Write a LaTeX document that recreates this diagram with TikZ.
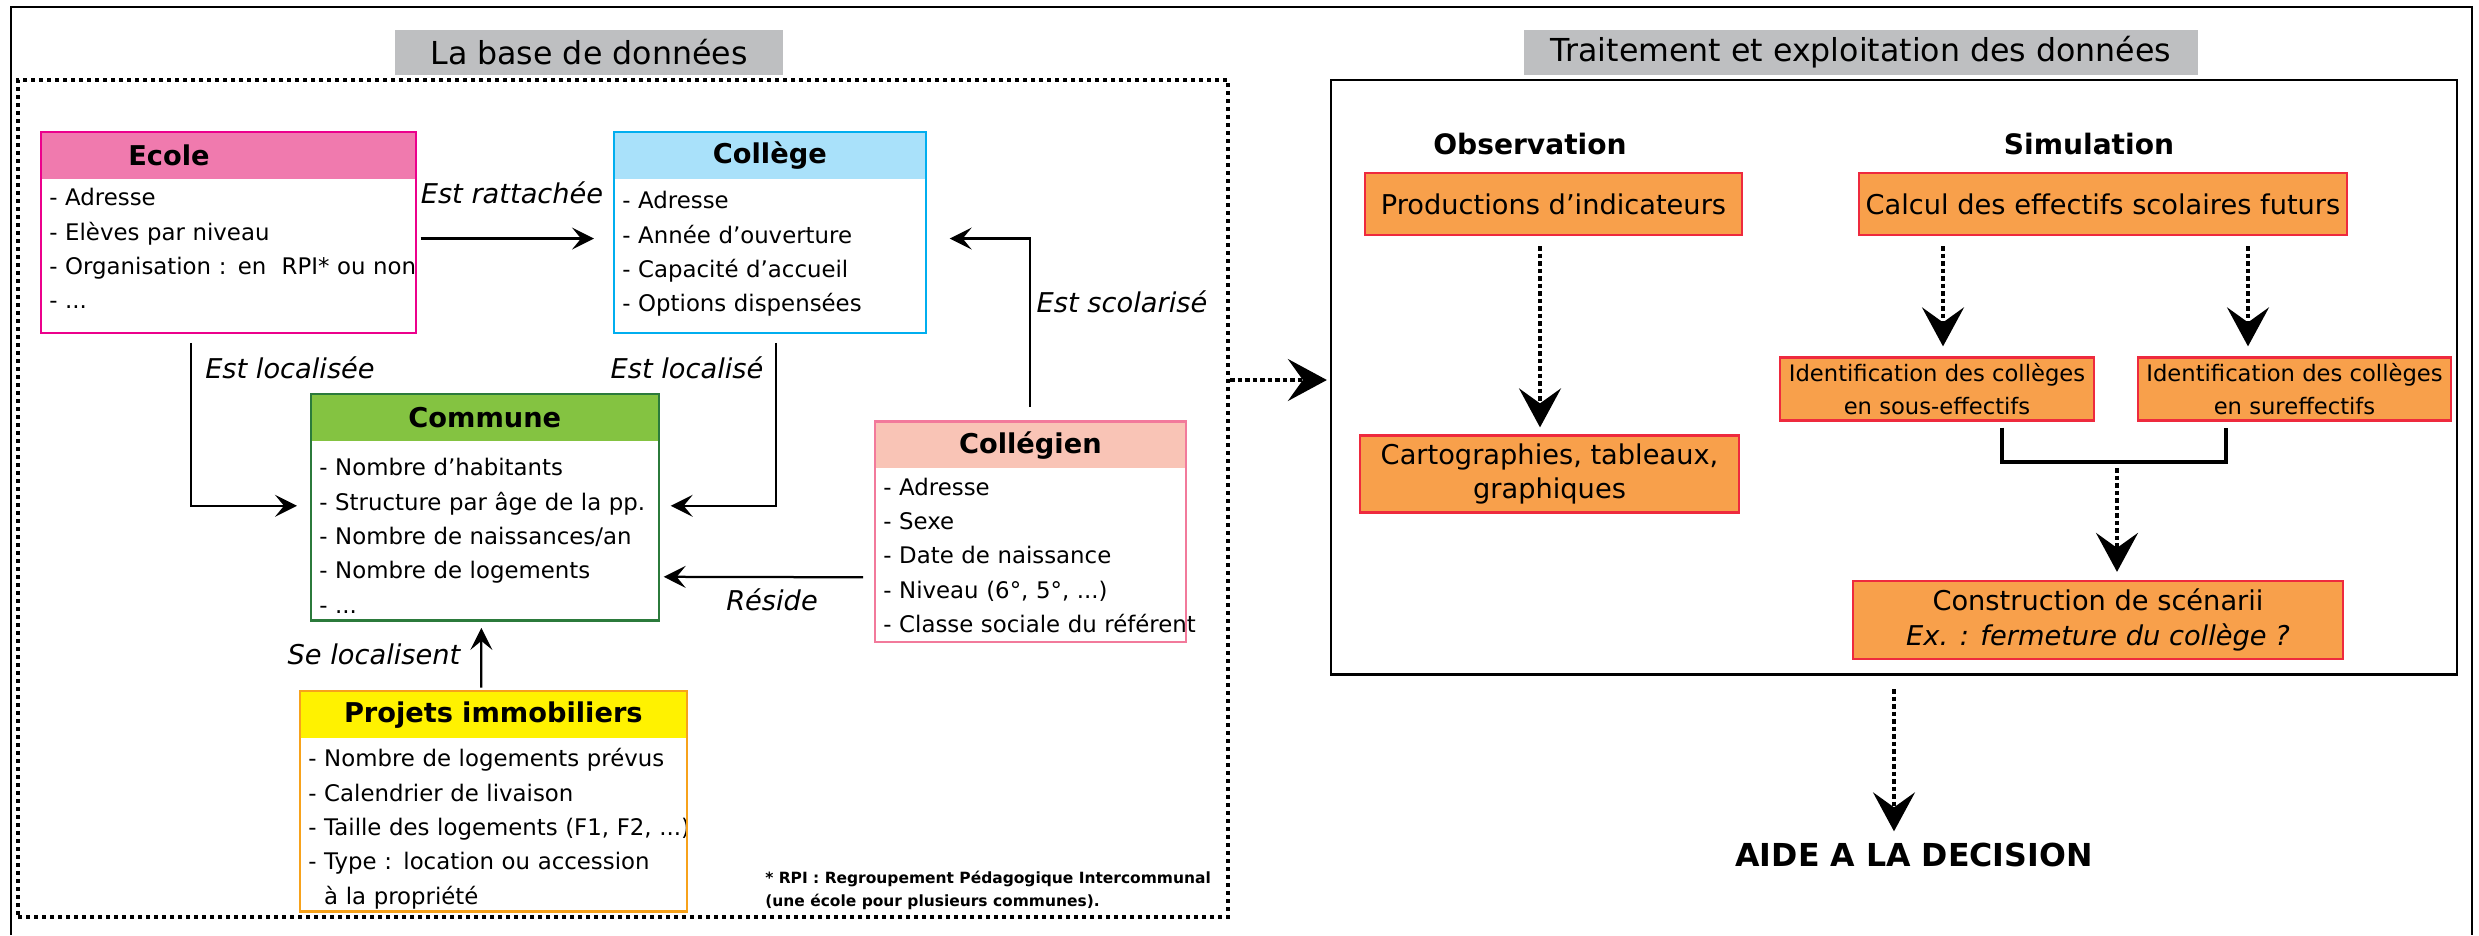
\documentclass[tikz,border=0pt]{standalone}
\usepackage{fontspec}
\setmainfont{DejaVu Sans}
\usetikzlibrary{arrows.meta}

\definecolor{ecolebord}{HTML}{EC008C}
\definecolor{ecolefond}{HTML}{F07AAE}
\definecolor{collegebord}{HTML}{00AEEF}
\definecolor{collegefond}{HTML}{A9E1FA}
\definecolor{communebord}{HTML}{2B7A3B}
\definecolor{communefond}{HTML}{84C341}
\definecolor{elevebord}{HTML}{F27A9B}
\definecolor{elevefond}{HTML}{F9C4B6}
\definecolor{projetbord}{HTML}{F7A21B}
\definecolor{projetfond}{HTML}{FFF200}
\definecolor{orangefond}{HTML}{F8A04B}
\definecolor{rougebord}{HTML}{EE2A3E}
\definecolor{grisfond}{HTML}{BEBFC1}

\newcommand{\taille}[2]{\fontsize{#1}{#2}\selectfont}

\tikzset{
  titre/.style={fill=grisfond, minimum height=0.90cm, font=\taille{18}{22}},
  tete/.style={fill=#1, anchor=north west, inner xsep=0pt, minimum height=0.93cm, align=center, font=\bfseries\taille{15.5}{18}},
  corps/.style={anchor=north west, align=left, inner xsep=0.16cm, inner ysep=0pt, font=\taille{13}{19.6}},
  cadre/.style={draw=#1, line width=0.045cm},
  relation/.style={font=\itshape\taille{15.5}{18}},
  rubrique/.style={font=\bfseries\taille{16}{19}},
  boite/.style={fill=orangefond, draw=rougebord, line width=0.045cm, align=center, inner xsep=0.1cm, font=\taille{15.5}{19.5}},
  fleche/.style={line width=0.045cm, -{Stealth[length=0.44cm, width=0.44cm, inset=0.18cm]}},
  pointille/.style={line width=0.07cm, dash pattern=on 0.09cm off 0.06cm, -{Stealth[length=0.78cm, width=0.84cm, inset=0.3cm]}},
  accolade/.style={line width=0.07cm}
}

\begin{document}
\begin{tikzpicture}
  \useasboundingbox (0,0) rectangle (49.58,-18.70);
  \draw[line width=0.05cm] (0.22,-18.70) |- (49.44,-0.14) -- (49.44,-18.70);
  \node[titre, minimum width=7.76cm] (tbase) at (11.78,-1.05) {La base de données};
  \node[titre, minimum width=13.48cm] (ttrait) at (37.22,-1.05) {Traitement et exploitation des données};
  \node[draw, line width=0.08cm, dash pattern=on 0.07cm off 0.09cm, minimum width=24.20cm, minimum height=16.74cm] (base) at (12.46,-9.97) {};
  \node[draw, line width=0.045cm, minimum width=22.52cm, minimum height=11.89cm] (trait) at (37.88,-7.545) {};
  % Les tables
  \node[tete=ecolefond, text width=7.48cm, align=left] (ecole) at (0.82,-2.64) {\hspace*{1.74cm}Ecole};
  \node[corps, text width=7.16cm, text height=0.52cm, text depth=2.54cm] (ecoleb) at (ecole.south west) {- Adresse\\- Elèves par niveau\\\mbox{- Organisation : en\ \ RPI* ou non}\\- ...};
  \node[tete=collegefond, text width=6.22cm] (college) at (12.28,-2.64) {Collège};
  \node[corps, text width=5.90cm, text height=0.58cm, text depth=2.48cm] (collegeb) at (college.south west) {- Adresse\\- Année d’ouverture\\- Capacité d’accueil\\- Options dispensées};
  \node[tete=communefond, text width=6.94cm] (commune) at (6.22,-7.88) {Commune};
  \node[corps, text width=6.62cm, text height=0.68cm, text depth=2.89cm] (communeb) at (commune.south west) {- Nombre d’habitants\\- Structure par âge de la pp.\\- Nombre de naissances/an\\- Nombre de logements\\- ...};
  \node[tete=elevefond, text width=6.20cm] (collegien) at (17.50,-8.43) {Collégien};
  \node[corps, text width=5.88cm, text height=0.52cm, text depth=2.93cm] (collegienb) at (collegien.south west) {- Adresse\\- Sexe\\- Date de naissance\\- Niveau (6°, 5°, ...)\\\mbox{- Classe sociale du référent}};
  \node[tete=projetfond, text width=7.72cm] (projet) at (6.00,-13.82) {Projets immobiliers};
  \node[corps, text width=7.40cm, text height=0.56cm, text depth=2.89cm] (projetb) at (projet.south west) {\mbox{- Nombre de logements prévus}\\- Calendrier de livaison\\\mbox{- Taille des logements (F1, F2, ...)}\\\mbox{- Type : location ou accession}\\\phantom{- }à la propriété};
  \draw[cadre=ecolebord] (ecole.north west) rectangle (ecoleb.south east);
  \draw[cadre=collegebord] (college.north west) rectangle (collegeb.south east);
  \draw[cadre=communebord] (commune.north west) rectangle (communeb.south east);
  \draw[cadre=elevebord] (collegien.north west) rectangle (collegienb.south east);
  \draw[cadre=projetbord] (projet.north west) rectangle (projetb.south east);
  \node[relation] (rattache) at (10.24,-3.86) {Est rattachée};
  \node[relation] (localisee) at (5.80,-7.36) {Est localisée};
  \node[relation] (localise) at (13.74,-7.36) {Est localisé};
  \node[relation] (scolarise) at (22.44,-6.04) {Est scolarisé};
  \node[relation] (reside) at (15.44,-12.00) {Réside};
  \node[relation] (localisent) at (7.48,-13.08) {Se localisent};
  \node[anchor=west, align=left, inner sep=0pt, font=\bfseries\taille{8.8}{13}] (rpi) at (15.30,-17.81) {* RPI : Regroupement Pédagogique Intercommunal\\(une école pour plusieurs communes).};
  % Draw the relations
  \draw[fleche, shorten <=0.1cm, shorten >=0.4cm] ([yshift=0.35cm]ecoleb.east) -- ([yshift=0.35cm]collegeb.west);
  \draw[fleche, shorten <=0.2cm, shorten >=0.28cm] ([xshift=-0.74cm]ecoleb.south) |- ([yshift=0.50cm]communeb.west);
  \draw[fleche, shorten <=0.2cm, shorten >=0.24cm] ([xshift=0.13cm]collegeb.south) |- ([yshift=0.50cm]communeb.east);
  \draw[fleche, shorten <=0.29cm, shorten >=0.48cm] (collegien.north) |- ([yshift=0.35cm]collegeb.east);
  \draw[fleche, shorten <=0.24cm, shorten >=0.10cm] ([yshift=-0.44cm]collegienb.west) -- ([yshift=-0.92cm]communeb.east);
  \draw[fleche, shorten <=0.07cm, shorten >=0.15cm] ([xshift=-0.24cm]projet.north) -- ([xshift=-0.07cm]communeb.south);
  % Traitement
  \node[rubrique] (observation) at (30.60,-2.88) {Observation};
  \node[rubrique] (simulation) at (41.78,-2.88) {Simulation};
  \node[boite, minimum width=7.54cm, minimum height=1.24cm] (indic) at (31.07,-4.08) {Productions d’indicateurs};
  \node[boite, minimum width=9.76cm, minimum height=1.24cm] (calcul) at (42.06,-4.08) {Calcul des effectifs scolaires futurs};
  \node[boite, minimum width=7.58cm, minimum height=1.54cm] (carto) at (30.99,-9.48) {Cartographies, tableaux,\\graphiques};
  \node[boite, minimum width=6.28cm, minimum height=1.25cm, font=\taille{12.9}{18.7}] (sous) at (38.74,-7.78) {Identification des collèges\\en sous-effectifs};
  \node[boite, minimum width=6.26cm, minimum height=1.25cm, font=\taille{12.9}{18.7}] (sur) at (45.89,-7.78) {Identification des collèges\\en sureffectifs};
  \node[boite, minimum width=9.80cm, minimum height=1.56cm] (scenario) at (41.96,-12.40) {Construction de scénarii\\\textit{Ex. : fermeture du collège ?}};
  \node[font=\bfseries\taille{18}{22}] (aide) at (38.28,-17.09) {AIDE A LA DECISION};
  \coordinate (jonction) at (42.34,-9.24);
  \draw[pointille, shorten >=0.06cm] ([yshift=2.37cm]base.east) -- ([yshift=2.37cm]base.east -| trait.west);
  \draw[pointille, shorten <=0.2cm, shorten >=0.14cm] ([xshift=-0.27cm]indic.south) -- ([xshift=-0.27cm]indic.south |- carto.north);
  \draw[pointille, shorten <=0.2cm, shorten >=0.2cm] ([xshift=-3.20cm]calcul.south) -- ([xshift=-3.20cm]calcul.south |- sous.north);
  \draw[pointille, shorten <=0.2cm, shorten >=0.2cm] ([xshift=2.90cm]calcul.south) -- ([xshift=2.90cm]calcul.south |- sur.north);
  \draw[accolade, shorten <=0.12cm, shorten >=0.12cm] ([xshift=1.30cm]sous.south) |- (jonction) -| ([xshift=-1.37cm]sur.south);
  \draw[pointille, shorten <=0.12cm, shorten >=0.16cm] (jonction) -- (jonction |- scenario.north);
  \draw[pointille, shorten <=0.27cm, shorten >=0.1cm] (trait.south) -- (trait.south |- aide.north);
\end{tikzpicture}
\end{document}
